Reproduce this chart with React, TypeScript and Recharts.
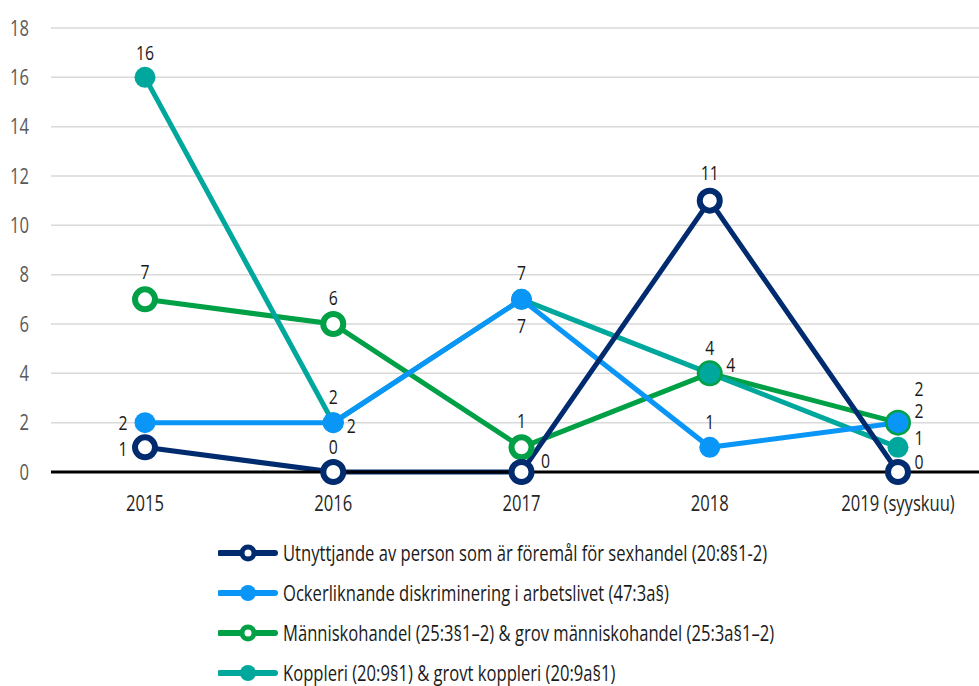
import React from "react";
import { LineChart, Line, XAxis, YAxis, CartesianGrid } from "recharts";

const years = ["2015", "2016", "2017", "2018", "2019 (syyskuu)"];
const yTicks = [0, 2, 4, 6, 8, 10, 12, 14, 16, 18];

const utnyttjande = [1, 0, 0, 11, 0];
const ocker = [2, 2, 7, 1, 2];
const manniskohandel = [7, 6, 1, 4, 2];
const koppleri = [16, 2, 7, 4, 1];

const FONT = "'Open Sans', sans-serif";
const FS = 21;
const SX = 0.79; // horizontal squeeze to get a condensed look
const NAVY = "#002b6f";
const BLUE = "#0a96f7";
const GREEN = "#00a046";
const TEAL = "#00a79c";

const data = years.map((year, i) => ({
  year,
  utnyttjande: utnyttjande[i],
  ocker: ocker[i],
  manniskohandel: manniskohandel[i],
  koppleri: koppleri[i],
}));

// label placement per point [dx, dy] from the marker centre
const labelOffsets: Record<string, [number, number][]> = {
  utnyttjande: [[-22, 1], [0, -26], [24, -12], [0, -28], [21, -11]],
  ocker: [[-22, 0], [18, 3], [0, 26], [0, -26], [21, -12]],
  manniskohandel: [[0, -28], [0, -27], [0, -27], [21, -9], [21, -34]],
  koppleri: [[0, -25], [0, -26], [0, -27], [0, -26], [21, -10]],
};

const series = [
  { key: "manniskohandel", color: GREEN, hollow: true },
  { key: "koppleri", color: TEAL, hollow: false },
  { key: "ocker", color: BLUE, hollow: false },
  { key: "utnyttjande", color: NAVY, hollow: true },
];

const legendItems = [
  { name: "Utnyttjande av person som är föremål för sexhandel (20:8§1-2)", color: NAVY, hollow: true },
  { name: "Ockerliknande diskriminering i arbetslivet (47:3a§)", color: BLUE, hollow: false },
  { name: "Människohandel (25:3§1–2) & grov människohandel (25:3a§1–2)", color: GREEN, hollow: true },
  { name: "Koppleri (20:9§1) & grovt koppleri (20:9a§1)", color: TEAL, hollow: false },
];

const SqText = ({ x, y, anchor, fill, size = FS, children }: any) => (
  <text
    transform={`translate(${x} ${y}) scale(${SX} 1)`}
    x={0}
    y={0}
    textAnchor={anchor}
    dominantBaseline="central"
    fontSize={size}
    fontFamily={FONT}
    fill={fill}
  >
    {children}
  </text>
);

const XTick = ({ x, y, payload }: any) => (
  <SqText x={x} y={y + 11} anchor="middle" fill="#262626">
    {payload.value}
  </SqText>
);

const YTick = ({ x, y, payload }: any) => (
  <SqText x={x} y={y} anchor="end" fill="#595959">
    {payload.value}
  </SqText>
);

const makeLabel = (key: string) => (props: any) => {
  const { x, y, value, index } = props;
  const [dx, dy] = labelOffsets[key][index] ?? [0, -26];
  return (
    <SqText x={x + dx} y={y + dy} anchor="middle" fill="#1a1a1a" size={20}>
      {value}
    </SqText>
  );
};

export default function App() {
  return (
    <div style={{ position: "absolute", left: 0, top: 0, width: 979, height: 686, background: "#fff", overflow: "hidden" }}>
      <LineChart
        width={979}
        height={686}
        data={data}
        margin={{ top: 28, right: 0, left: 0, bottom: 174 }}
      >
        <CartesianGrid vertical={false} stroke="#d9d9d9" strokeWidth={1.5} />
        <XAxis
          dataKey="year"
          height={40}
          padding={{ left: 94, right: 81 }}
          axisLine={{ stroke: "#000", strokeWidth: 3 }}
          tickLine={false}
          tickSize={0}
          tickMargin={20}
          tick={<XTick />}
        />
        <YAxis
          width={51}
          domain={[0, 18]}
          ticks={yTicks}
          interval={0}
          axisLine={false}
          tickLine={false}
          tickSize={0}
          tickMargin={22}
          tick={<YTick />}
        />
        {series.map((s) => (
          <Line
            key={s.key}
            dataKey={s.key}
            stroke={s.color}
            strokeWidth={5}
            isAnimationActive={false}
            dot={
              s.hollow
                ? { r: 10, fill: "#fff", stroke: s.color, strokeWidth: 6 }
                : { r: 10.5, fill: s.color, stroke: s.color, strokeWidth: 0 }
            }
            activeDot={false}
            label={makeLabel(s.key)}
          />
        ))}
      </LineChart>

      {legendItems.map((item, i) => (
        <div
          key={item.name}
          style={{
            position: "absolute",
            left: 218,
            top: 553 + i * 40 - 15,
            height: 30,
            display: "flex",
            alignItems: "center",
            fontFamily: FONT,
            fontSize: FS,
            color: "#1a1a1a",
            whiteSpace: "nowrap",
          }}
        >
          <svg width={60} height={30} style={{ marginRight: 5, flexShrink: 0 }}>
            <line x1={2} y1={15} x2={57} y2={15} stroke={item.color} strokeWidth={6} strokeLinecap="round" />
            {item.hollow ? (
              <circle cx={30} cy={15} r={6} fill="#fff" stroke={item.color} strokeWidth={5} />
            ) : (
              <circle cx={30} cy={15} r={8} fill={item.color} />
            )}
          </svg>
          <span style={{ display: "inline-block", transform: `scaleX(${SX})`, transformOrigin: "left center" }}>
            {item.name}
          </span>
        </div>
      ))}
    </div>
  );
}
